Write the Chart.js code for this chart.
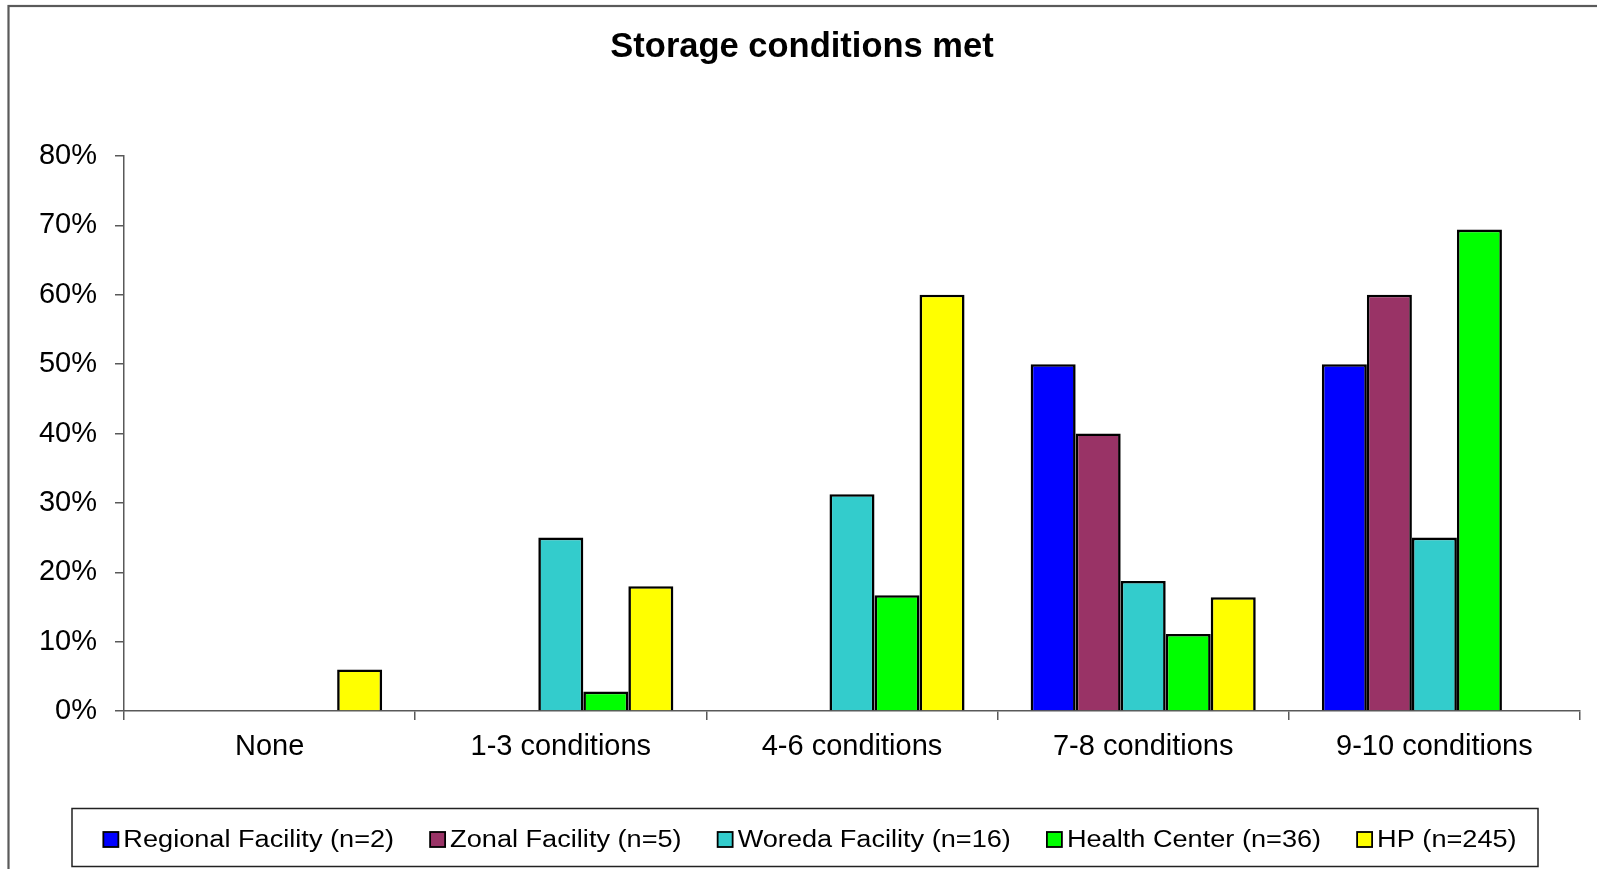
<!DOCTYPE html>
<html>
<head>
<meta charset="utf-8">
<title>Storage conditions met</title>
<script src="https://cdn.jsdelivr.net/npm/chart.js@4/dist/chart.umd.min.js"></script>
<style>
  html, body { margin: 0; padding: 0; background: #fff; overflow: hidden; }
  #wrap { width: 1597px; height: 869px; position: relative; }
</style>
</head>
<body>
<div id="wrap"><canvas id="chart" width="1597" height="869"></canvas></div>
<script>
// Share of facilities (%) meeting each number of storage conditions
const categories = ['None', '1-3 conditions', '4-6 conditions', '7-8 conditions', '9-10 conditions'];
const regionalFacility = [0, 0, 0, 50, 50];
const zonalFacility    = [0, 0, 0, 40, 60];
const woredaFacility   = [0, 25, 31.25, 18.75, 25];
const healthCenter     = [0, 2.8, 16.7, 11.1, 69.4];
const healthPost       = [6.0, 18.0, 60.0, 16.4, 0];

const seriesNames = [
  'Regional Facility (n=2)',
  'Zonal Facility (n=5)',
  'Woreda Facility (n=16)',
  'Health Center (n=36)',
  'HP (n=245)'
];
const seriesColors = ['#0000FF', '#993366', '#33CCCC', '#00FF00', '#FFFF00'];
const yTickValues = [0, 10, 20, 30, 40, 50, 60, 70, 80];
const chartTitle = 'Storage conditions met';

const FONT = '"Liberation Sans", Arial, Helvetica, sans-serif';
const AXIS_COLOR = '#595959';

// Outer frame of the chart sheet
const outerFrame = {
  id: 'outerFrame',
  beforeDraw(chart) {
    const ctx = chart.ctx;
    ctx.save();
    ctx.fillStyle = '#fff';
    ctx.fillRect(0, 0, chart.width, chart.height);
    ctx.strokeStyle = '#5a5a5a';
    ctx.lineWidth = 2.2;
    ctx.strokeRect(8.5, 6, 3000, 3000);
    ctx.restore();
  }
};

// Bold title, centred a little right of the canvas middle
const sheetTitle = {
  id: 'sheetTitle',
  afterDraw(chart) {
    const ctx = chart.ctx;
    ctx.save();
    ctx.font = 'bold 34.5px ' + FONT;
    ctx.fillStyle = '#000';
    ctx.textAlign = 'center';
    ctx.textBaseline = 'alphabetic';
    ctx.fillText(chartTitle, 802, 57);
    ctx.restore();
  }
};

// Boxed legend along the bottom, with slightly widened lettering
const boxedLegend = {
  id: 'boxedLegend',
  afterDraw(chart) {
    const ctx = chart.ctx;
    const L = 72, T = 808.5, R = 1538, B = 866.5;
    const centerX = 810, centerY = 839.5;
    const box = 15, boxGap = 5, itemGap = 36, stretch = 1.18;
    ctx.save();
    ctx.strokeStyle = '#222';
    ctx.lineWidth = 1.5;
    ctx.strokeRect(L, T, R - L, B - T);
    ctx.font = '23px ' + FONT;
    const items = chart.data.datasets.map(ds => ({
      text: ds.label,
      color: ds.backgroundColor,
      w: ctx.measureText(ds.label).width * stretch
    }));
    const total = items.reduce((s, it) => s + box + boxGap + it.w, 0) + itemGap * (items.length - 1);
    let x = centerX - total / 2;
    items.forEach(it => {
      ctx.fillStyle = it.color;
      ctx.fillRect(x, centerY - box / 2, box, box);
      ctx.strokeStyle = '#000';
      ctx.lineWidth = 1.8;
      ctx.strokeRect(x, centerY - box / 2, box, box);
      ctx.save();
      ctx.translate(x + box + boxGap, centerY);
      ctx.scale(stretch, 1);
      ctx.fillStyle = '#000';
      ctx.textBaseline = 'middle';
      ctx.textAlign = 'left';
      ctx.fillText(it.text, 0, 1);
      ctx.restore();
      x += box + boxGap + it.w + itemGap;
    });
    ctx.restore();
  }
};

const seriesValues = [regionalFacility, zonalFacility, woredaFacility, healthCenter, healthPost];

new Chart(document.getElementById('chart'), {
  type: 'bar',
  data: {
    labels: categories,
    datasets: seriesValues.map((vals, i) => ({
      label: seriesNames[i],
      data: vals,
      backgroundColor: seriesColors[i],
      borderColor: '#000',
      borderWidth: c => (c.raw === 0 ? 0 : 2.6),
      borderSkipped: 'bottom',
      categoryPercentage: 0.773,
      barPercentage: 1.0
    }))
  },
  options: {
    responsive: false,
    animation: false,
    devicePixelRatio: 1,
    layout: { padding: { left: 0, right: 17, top: 156, bottom: 0 } },
    plugins: {
      legend: { display: false },
      tooltip: { enabled: false },
      title: { display: false }
    },
    scales: {
      x: {
        grid: {
          offset: true,
          drawOnChartArea: false,
          drawTicks: true,
          tickLength: 9,
          color: AXIS_COLOR,
          lineWidth: 1.5
        },
        border: { display: true, color: AXIS_COLOR, width: 1.5 },
        ticks: {
          color: '#000',
          font: { family: FONT, size: 29 },
          padding: 10,
          maxRotation: 0,
          autoSkip: false
        },
        afterFit: s => { s.height = 158; }
      },
      y: {
        min: 0,
        max: 80,
        afterBuildTicks: s => { s.ticks = yTickValues.map(v => ({ value: v })); },
        grid: {
          drawOnChartArea: false,
          drawTicks: true,
          tickLength: 9,
          color: AXIS_COLOR,
          lineWidth: 1.5
        },
        border: { display: true, color: AXIS_COLOR, width: 1.5 },
        ticks: {
          color: '#000',
          font: { family: FONT, size: 29 },
          padding: 18,
          callback: v => v + '%'
        },
        afterFit: s => { s.width = 124; }
      }
    }
  },
  plugins: [outerFrame, sheetTitle, boxedLegend]
});
</script>
</body>
</html>
